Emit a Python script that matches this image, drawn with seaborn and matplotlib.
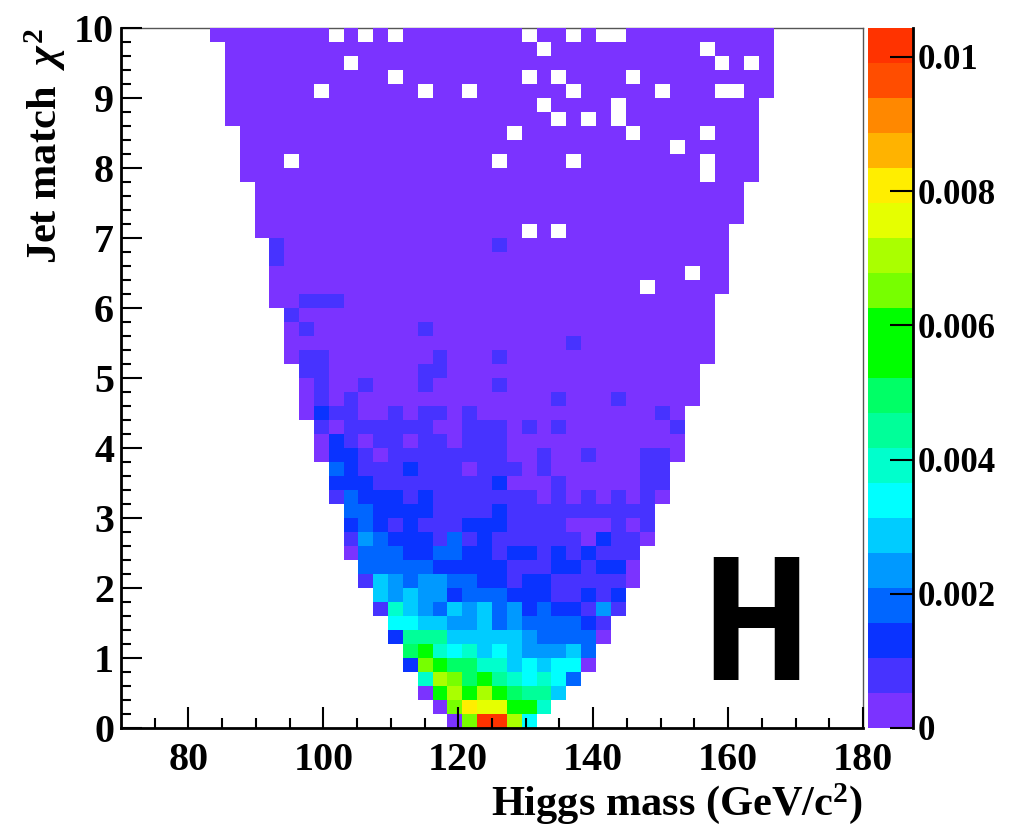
import numpy as np
import pandas as pd
import matplotlib
matplotlib.use("Agg")
import matplotlib.pyplot as plt
from matplotlib.colors import ListedColormap
from matplotlib.ticker import FixedLocator
import seaborn as sns

# Histogram binning
x_min, x_max, n_x = 70.0, 180.0, 50
y_min, y_max, n_y = 0.0, 10.0, 50

# Colour levels, lowest to highest
level_chars = "0123456789abcdefghij"
level_colors = ["#7b33ff", "#4733ff", "#0a33ff", "#0066ff", "#0099ff",
                "#00ccff", "#00ffff", "#00ffcc", "#00ff99", "#00ff66",
                "#00ff00", "#00ff00", "#77ff00", "#aaff00", "#e6ff00",
                "#ffee00", "#ffb300", "#ff8800", "#ff4d00", "#ff3300"]
level_step = 0.0005216

x_tick_values = [80, 100, 120, 140, 160, 180]
y_tick_values = [0, 1, 2, 3, 4, 5, 6, 7, 8, 9, 10]
z_tick_values = [0, 0.002, 0.004, 0.006, 0.008, 0.01]
z_tick_labels = ["0", "0.002", "0.004", "0.006", "0.008", "0.01"]

# First filled column of each row, row 0 at chi2 = 0
row_start = [22, 21, 20, 20, 19, 19, 18, 18, 17, 17,
             16, 16, 15, 15, 15, 15, 14, 14, 14, 13,
             13, 13, 12, 12, 12, 12, 11, 11, 11, 11,
             10, 10, 10, 10, 10, 9, 9, 9, 9, 8,
             8, 8, 8, 7, 7, 7, 7, 7, 7, 6]
# Colour level of each bin; a dot is an empty bin
row_levels = [
    "0cjjd6",
    "0cfeeaa7",
    "0adada9885",
    "7dc9a876763",
    "2ca9977565660",
    "9a76756544453",
    "288855555433330",
    "665544534333321",
    "17543545342322141",
    "54544233322211212",
    "1543443322122111110",
    "3333322222111221220",
    "03332233221221212111",
    "143222131211111102110",
    "232121112221111000101",
    "332222111121111111111",
    "13222121111111010101010",
    "22211111111200010000011",
    "32111211101110100000011",
    "0221011111111001001000110",
    "0210110110111000000000000",
    "1011111100111010100000001",
    "02110010110100000000000010",
    "010100000000000001000100000",
    "010010001000010000000000000",
    "110000001100000000000000000",
    "01100000001000100000000000000",
    "00000000000000000001000000000",
    "01000000010000000000000000000",
    "10000000000000000000000000000",
    "001110000000000000000000000000",
    "0000000000000000000000000.00000",
    "0000000000000000000000000000.00",
    "1000000000000000000000000000000",
    "1000000000000001000000000000000",
    "000000000000000000.0.00000000000",
    "000000000000000000000000000000000",
    "000000000000000000000000000000000",
    "000000000000000000000000000000000",
    "0000000000000000000000000000000.000",
    "000.0000000000000.0000.00000000.000",
    "00000000000000000000000000000.00000",
    "000000000000000000.0000000.0000.000",
    "0000000000000000000000.0.0.000000000",
    "000000000000000000000.0000.000000000",
    "000000.000000.00.000000.00000.000..00",
    "00000000000.00000000.0.0000.000000000",
    "00000000.000000000000000000000000.0.0",
    "000000000000000000000.0000000000.0000",
    "00000000.0.0.00000000.00.0..0000000000",
]

dpi = 100
sns.set_style("ticks")
plt.rcParams["font.family"] = ["Liberation Serif", "DejaVu Serif"]
plt.rcParams["font.weight"] = "bold"
plt.rcParams["text.color"] = "black"
plt.rcParams["axes.labelcolor"] = "black"
plt.rcParams["xtick.color"] = "black"
plt.rcParams["ytick.color"] = "black"
plt.rcParams["mathtext.fontset"] = "custom"
plt.rcParams["mathtext.rm"] = "Liberation Serif:bold"
plt.rcParams["mathtext.bf"] = "Liberation Serif:bold"
plt.rcParams["mathtext.it"] = "Liberation Serif:italic"
plt.rcParams["mathtext.default"] = "regular"

W, H = 1028, 826
fig = plt.figure(figsize=(W / dpi, H / dpi), dpi=dpi, facecolor="white")
ax = fig.add_axes([121 / W, 1 - 728 / H, 742 / W, 700 / H])
cax = fig.add_axes([868 / W, 1 - 728 / H, 45 / W, 700 / H])

grid = np.full((n_y, n_x), np.nan)
for r, (start, text) in enumerate(zip(row_start, row_levels)):
    for k, ch in enumerate(text):
        if ch != ".":
            grid[r, start + k] = (level_chars.index(ch) + 0.5) * level_step

x_w = (x_max - x_min) / n_x
y_w = (y_max - y_min) / n_y
table = pd.DataFrame(grid,
                     index=y_min + y_w * (np.arange(n_y) + 0.5),
                     columns=x_min + x_w * (np.arange(n_x) + 0.5))

sns.heatmap(table, ax=ax, cbar_ax=cax, cmap=ListedColormap(level_colors),
            vmin=0, vmax=level_step * len(level_colors),
            xticklabels=False, yticklabels=False,
            cbar_kws={"ticks": z_tick_values})
ax.invert_yaxis()
ax.set_xlim(0, n_x)
ax.set_ylim(0, n_y)
ax.collections[0].set_zorder(1)
ax.set_facecolor("white")
ax.set_axisbelow(False)
cax.set_axisbelow(False)


def to_x(v):
    return (np.asarray(v, dtype=float) - x_min) / x_w


def to_y(v):
    return (np.asarray(v, dtype=float) - y_min) / y_w


ax.set_xticks(to_x(x_tick_values))
ax.set_xticklabels([str(v) for v in x_tick_values], fontsize=28.8, fontweight="bold", rotation=0, color="black")
ax.set_yticks(to_y(y_tick_values))
ax.set_yticklabels([str(v) for v in y_tick_values], fontsize=28.8, fontweight="bold", rotation=0, color="black")
ax.xaxis.set_minor_locator(FixedLocator(to_x(np.arange(75, 180, 5))))
ax.yaxis.set_minor_locator(FixedLocator(to_y(np.arange(0, 10.01, 0.2))))
ax.tick_params(axis="both", which="major", direction="in", length=15, width=1.5, color="black", bottom=True, left=True)
ax.tick_params(axis="both", which="minor", direction="in", length=7.5, width=1.5, color="black", bottom=True, left=True)
ax.tick_params(axis="x", which="major", pad=10)
ax.tick_params(axis="y", which="major", pad=5)

for name in ("left", "bottom"):
    ax.spines[name].set_visible(True)
    ax.spines[name].set_linewidth(2.0)
    ax.spines[name].set_color("black")
    ax.spines[name].set_zorder(3)
for name in ("top", "right"):
    ax.spines[name].set_visible(True)
    ax.spines[name].set_linewidth(1.0)
    ax.spines[name].set_color("#555555")
    ax.spines[name].set_zorder(0.5)

ax.set_xlabel("Higgs mass (GeV/c$^{2}$)", fontsize=30.5, fontweight="bold", loc="right", color="black")
ax.set_ylabel(r"Jet match  $\mathit{\chi}^{2}$", fontsize=30.5, fontweight="bold", loc="top", color="black")
ax.xaxis.set_label_coords(1.0, -0.0755)
ax.yaxis.set_label_coords(-0.0714, 1.0)

ax.text(0.855, 0.0686, "H", transform=ax.transAxes, ha="center", va="baseline",
        fontsize=123.5, fontweight="bold", color="black",
        family=["Roboto Condensed", "Liberation Sans"])

cbar = ax.collections[0].colorbar
cbar.outline.set_visible(False)
cbar.ax.spines["right"].set_visible(True)
cbar.ax.spines["right"].set_linewidth(2.0)
cbar.ax.spines["right"].set_color("black")
cbar.set_ticks(z_tick_values, labels=z_tick_labels)
cax.tick_params(axis="y", which="major", direction="in", length=16.5, width=1.5, color="black",
                labelsize=25, pad=3, right=True, left=False, labelcolor="black")
cax.minorticks_off()
for lab in cax.get_yticklabels():
    lab.set_fontweight("bold")

fig.savefig("out.png", dpi=dpi, facecolor="white")
